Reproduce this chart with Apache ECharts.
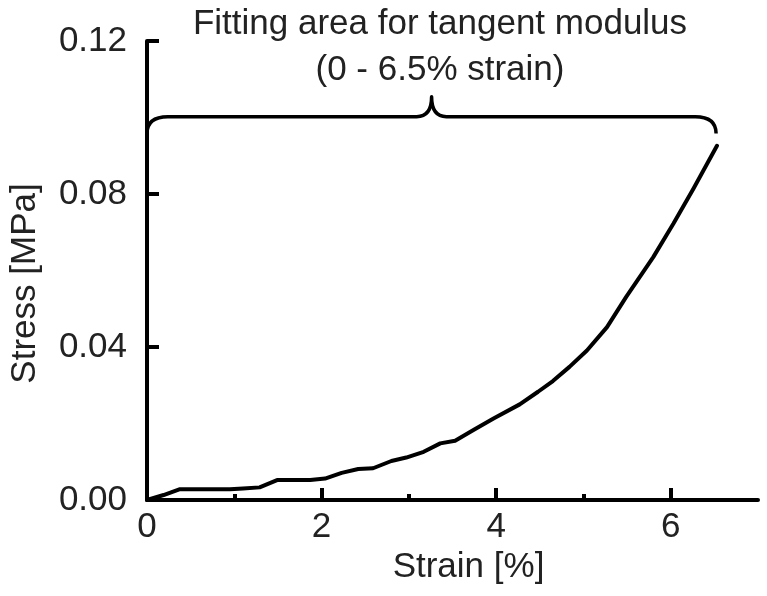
<!DOCTYPE html>
<html>
<head>
<meta charset="utf-8">
<script src="https://cdn.jsdelivr.net/npm/echarts@6/dist/echarts.min.js"></script>
<style>html,body{margin:0;padding:0;background:#fff;}#c{width:767px;height:596px;}</style>
</head>
<body>
<div id="c"></div>
<script>
var strain = [0, 0.19, 0.37, 0.95, 1.10, 1.29, 1.49, 1.71, 1.87, 2.04, 2.23, 2.42, 2.59, 2.80, 2.97, 3.17, 3.36, 3.53, 3.74, 3.97, 4.27, 4.48, 4.65, 4.84, 5.04, 5.27, 5.49, 5.80, 6.03, 6.26, 6.53];
var stress = [0, 0.0013, 0.0028, 0.0028, 0.0030, 0.0033, 0.0052, 0.0052, 0.0052, 0.0056, 0.0071, 0.0081, 0.0083, 0.0102, 0.0111, 0.0126, 0.0148, 0.0155, 0.0183, 0.0213, 0.0250, 0.0283, 0.0311, 0.0348, 0.0391, 0.0452, 0.0531, 0.0635, 0.0722, 0.0814, 0.0926];
var xMajorTicks = [0, 2, 4, 6];
var xMinorTicks = [1, 3, 5];
var yTicks = [0, 0.04, 0.08, 0.12];
var braceRange = [0, 6.52];      // strain range covered by the brace
var braceLevels = [0.0958, 0.1002, 0.1054]; // end, bar, tip (stress units)
var titleLines = ['Fitting area for tangent modulus', '(0 - 6.5% strain)'];

var FONT = '"Liberation Sans", Arial, sans-serif';
var TXT = '#222';
var FS = 35;
var chart = echarts.init(document.getElementById('c'));
var lineData = strain.map(function (s, i) { return [s, stress[i]]; });

chart.setOption({
  animation: false,
  backgroundColor: '#fff',
  title: {
    text: titleLines.join('\n'),
    left: 435, top: -4, textAlign: 'center',
    textStyle: { fontFamily: FONT, fontSize: FS, fontWeight: 'normal', color: TXT, lineHeight: 46 }
  },
  grid: { left: 147, right: 9, top: 41, bottom: 96, containLabel: false },
  xAxis: [{
    type: 'value', min: 0, max: 7, interval: 1,
    name: 'Strain [%]', nameLocation: 'middle', nameGap: 49,
    nameTextStyle: { fontFamily: FONT, fontSize: FS, color: TXT, padding: [0, 0, 0, 32] },
    axisLine: { show: true, onZero: false, lineStyle: { color: '#000', width: 4 } },
    axisTick: { show: true, inside: true, length: 12, customValues: xMajorTicks, lineStyle: { color: '#000', width: 4 } },
    axisLabel: { customValues: xMajorTicks, margin: 10, fontFamily: FONT, fontSize: FS, color: TXT },
    splitLine: { show: false }
  }, {
    type: 'value', min: 0, max: 7, position: 'bottom',
    axisLine: { show: false },
    axisTick: { show: true, inside: true, length: 6, customValues: xMinorTicks, lineStyle: { color: '#000', width: 4 } },
    axisLabel: { show: false },
    splitLine: { show: false }
  }],
  yAxis: {
    type: 'value', min: 0, max: 0.12, interval: 0.04,
    name: 'Stress [MPa]', nameLocation: 'middle', nameGap: 104,
    nameTextStyle: { fontFamily: FONT, fontSize: FS, color: TXT, padding: [0, 26, 0, 0] },
    axisLine: { show: true, onZero: false, lineStyle: { color: '#000', width: 4 } },
    axisTick: { show: true, inside: true, length: 12, customValues: yTicks, lineStyle: { color: '#000', width: 4 } },
    axisLabel: { customValues: yTicks, margin: 20, fontFamily: FONT, fontSize: FS, color: TXT,
      formatter: function (v) { return v.toFixed(2); } },
    splitLine: { show: false }
  },
  series: [{
    type: 'line', data: lineData, showSymbol: false, symbol: 'none',
    lineStyle: { color: '#000', width: 4, cap: 'round', join: 'round' },
    clip: false
  }, {
    type: 'custom', clip: false, silent: true,
    data: [[braceRange[0], braceLevels[1]]],
    renderItem: function (params, api) {
      var x0 = braceRange[0], x1 = braceRange[1], xm = (x0 + x1) / 2;
      var yE = braceLevels[0], yB = braceLevels[1], yT = braceLevels[2];
      var r1 = 0.24, r2 = 0.17;
      function c(x, y) { var p = api.coord([x, y]); return p[0].toFixed(1) + ' ' + p[1].toFixed(1); }
      var d = 'M ' + c(x0, yE) +
        ' Q ' + c(x0, yB) + ' ' + c(x0 + r1, yB) +
        ' L ' + c(xm - r2, yB) +
        ' Q ' + c(xm, yB) + ' ' + c(xm, yT) +
        ' Q ' + c(xm, yB) + ' ' + c(xm + r2, yB) +
        ' L ' + c(x1 - r1, yB) +
        ' Q ' + c(x1, yB) + ' ' + c(x1, yE);
      return { type: 'path', shape: { pathData: d },
        style: { stroke: '#000', fill: null, lineWidth: 3.5, lineJoin: 'round', lineCap: 'butt' } };
    }
  }]
});
</script>
</body>
</html>
